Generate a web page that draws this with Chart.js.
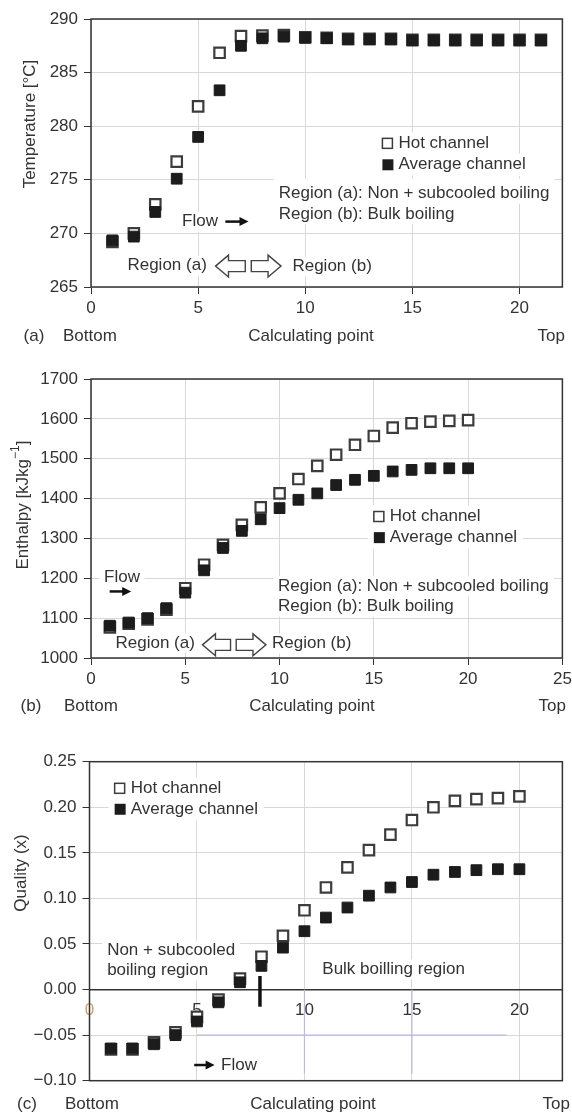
<!DOCTYPE html>
<html>
<head>
<meta charset="utf-8">
<script src="https://cdn.jsdelivr.net/npm/chart.js@4.4.1/dist/chart.umd.min.js"></script>
<style>
    html, body { margin: 0; padding: 0; background: #fff; }
    #wrap { position: relative; width: 572px; height: 1115px; }
    canvas { position: absolute; left: 0; }
</style>
</head>
<body>
<div id="wrap">
    <canvas id="chart-a" width="572" height="355" style="top:0"></canvas>
    <canvas id="chart-b" width="572" height="370" style="top:355px"></canvas>
    <canvas id="chart-c" width="572" height="390" style="top:725px"></canvas>
</div>
<script>
// (a) temperature
const pointsA = [1, 2, 3, 4, 5, 6, 7, 8, 9, 10, 11, 12, 13, 14, 15, 16, 17, 18, 19, 20, 21];
const tempHot = [269.2, 270.0, 272.7, 276.7, 281.85, 286.85, 288.4, 288.45, 288.5, 288.3, 288.25, 288.15, 288.15, 288.15, 288.05, 288.05, 288.05, 288.05, 288.05, 288.05, 288.05];
const tempAvg = [269.35, 269.7, 272.0, 275.1, 279.0, 283.35, 287.5, 288.2, 288.35, 288.25, 288.2, 288.1, 288.1, 288.1, 288.0, 288.0, 288.0, 288.0, 288.0, 288.0, 288.0];
const tempTicks = [265, 270, 275, 280, 285, 290];
const xTicksA = [0, 5, 10, 15, 20];

// (b) enthalpy
const pointsB = [1, 2, 3, 4, 5, 6, 7, 8, 9, 10, 11, 12, 13, 14, 15, 16, 17, 18, 19, 20];
const enthHot = [1077, 1086, 1097, 1121, 1175, 1234, 1284, 1334, 1378, 1413, 1449, 1482, 1510, 1535, 1557, 1578, 1589, 1593, 1595, 1597];
const enthAvg = [1081, 1089, 1100, 1125, 1164, 1220, 1276, 1319, 1348, 1376, 1397, 1413, 1434, 1447, 1457, 1468, 1472, 1476, 1476, 1476];
const enthTicks = [1000, 1100, 1200, 1300, 1400, 1500, 1600, 1700];
const xTicksB = [0, 5, 10, 15, 20, 25];

// (c) quality
const pointsC = [1, 2, 3, 4, 5, 6, 7, 8, 9, 10, 11, 12, 13, 14, 15, 16, 17, 18, 19, 20];
const qualHot = [-0.0656, -0.0656, -0.058, -0.047, -0.030, -0.011, 0.012, 0.036, 0.059, 0.087, 0.112, 0.134, 0.153, 0.170, 0.186, 0.200, 0.207, 0.209, 0.210, 0.212];
const qualAvg = [-0.0646, -0.0646, -0.060, -0.050, -0.035, -0.014, 0.008, 0.026, 0.046, 0.064, 0.079, 0.090, 0.103, 0.112, 0.118, 0.126, 0.129, 0.131, 0.132, 0.132];
const qualTicks = [-0.10, -0.05, 0, 0.05, 0.10, 0.15, 0.20, 0.25];
const xTicksC = [0, 5, 10, 15, 20];

const FAMILY = '"Liberation Sans", Arial, sans-serif';
const FONT = "17px " + FAMILY;
const INK = "#333";
Chart.defaults.font.family = FAMILY;
Chart.defaults.font.size = 17;
Chart.defaults.color = INK;

function drawText(ctx, t, x, y, align, bg, padTop) {
    ctx.font = FONT;
    const w = ctx.measureText(t).width;
    let left = x;
    if (align === "center") left = x - w / 2;
    if (align === "right") left = x - w;
    if (bg) {
        const pt = padTop || 10;
        ctx.fillStyle = "#fff";
        ctx.fillRect(left - 5, y - pt, w + 10, pt + 10);
    }
    ctx.fillStyle = INK;
    ctx.textAlign = "left";
    ctx.textBaseline = "middle";
    ctx.fillText(t, left, y);
    return w;
}

function hollowArrow(ctx, x1, x2, yc, dir) {
    const h = 22, sh = 11, head = 13;
    ctx.beginPath();
    if (dir === "left") {
        ctx.moveTo(x1, yc);
        ctx.lineTo(x1 + head, yc - h / 2);
        ctx.lineTo(x1 + head, yc - sh / 2);
        ctx.lineTo(x2, yc - sh / 2);
        ctx.lineTo(x2, yc + sh / 2);
        ctx.lineTo(x1 + head, yc + sh / 2);
        ctx.lineTo(x1 + head, yc + h / 2);
    } else {
        ctx.moveTo(x2, yc);
        ctx.lineTo(x2 - head, yc - h / 2);
        ctx.lineTo(x2 - head, yc - sh / 2);
        ctx.lineTo(x1, yc - sh / 2);
        ctx.lineTo(x1, yc + sh / 2);
        ctx.lineTo(x2 - head, yc + sh / 2);
        ctx.lineTo(x2 - head, yc + h / 2);
    }
    ctx.closePath();
    ctx.fillStyle = "#fff";
    ctx.fill();
    ctx.strokeStyle = "#444";
    ctx.lineWidth = 1.4;
    ctx.stroke();
}

function solidArrow(ctx, x1, x2, y) {
    ctx.strokeStyle = "#111";
    ctx.lineWidth = 2.5;
    ctx.beginPath();
    ctx.moveTo(x1, y);
    ctx.lineTo(x2 - 7, y);
    ctx.stroke();
    ctx.fillStyle = "#111";
    ctx.beginPath();
    ctx.moveTo(x2, y);
    ctx.lineTo(x2 - 9, y - 4.5);
    ctx.lineTo(x2 - 9, y + 4.5);
    ctx.closePath();
    ctx.fill();
}

// annotations inside the plot and texts around it
const notes = {
    id: "notes",
    beforeDatasetsDraw(chart, args, opts) {
        const ctx = chart.ctx;
        const px = v => chart.scales.x.getPixelForValue(v);
        const py = v => chart.scales.y.getPixelForValue(v);
        const area = chart.chartArea;
        ctx.save();
        for (const it of opts.items || []) {
            if (it.type === "text") {
                drawText(ctx, it.text, px(it.x), py(it.y), "left", true, it.padTop);
            } else if (it.type === "key") {
                const x = px(it.x), y = py(it.y);
                ctx.font = FONT;
                const w = ctx.measureText(it.text).width;
                ctx.fillStyle = "#fff";
                ctx.fillRect(x - 6, y - 11, w + 28, 22);
                if (it.hot) {
                    ctx.strokeStyle = "#3c3c3c";
                    ctx.lineWidth = 1.5;
                    ctx.strokeRect(x, y - 5, 10, 10);
                } else {
                    ctx.fillStyle = "#1c1c1c";
                    ctx.fillRect(x, y - 5.5, 11, 11);
                }
                drawText(ctx, it.text, x + 16, y, "left", false);
            } else if (it.type === "hollow") {
                hollowArrow(ctx, px(it.x1), px(it.x2), py(it.y), it.dir);
            } else if (it.type === "arrow") {
                solidArrow(ctx, px(it.x1), px(it.x2), py(it.y));
            } else if (it.type === "seg") {
                ctx.strokeStyle = it.color;
                ctx.lineWidth = it.width;
                ctx.beginPath();
                ctx.moveTo(px(it.x1), py(it.y1));
                ctx.lineTo(px(it.x2), py(it.y2));
                ctx.stroke();
            }
        }
        ctx.strokeStyle = "#333";
        ctx.lineWidth = 1.5;
        ctx.strokeRect(area.left, area.top, area.right - area.left, area.bottom - area.top);
        ctx.restore();
    },
    afterDraw(chart, args, opts) {
        const ctx = chart.ctx;
        ctx.save();
        for (const t of opts.outer || []) {
            drawText(ctx, t.text, t.x, t.y, t.align, false);
        }
        const tt = opts.title;
        if (tt) {
            ctx.translate(tt.x, tt.y);
            ctx.rotate(-Math.PI / 2);
            const supFont = "12px " + FAMILY;
            let total = 0;
            for (const p of tt.parts) {
                ctx.font = p.sup ? supFont : FONT;
                total += ctx.measureText(p.t).width;
            }
            let cx = -total / 2;
            ctx.fillStyle = INK;
            ctx.textBaseline = "middle";
            ctx.textAlign = "left";
            for (const p of tt.parts) {
                ctx.font = p.sup ? supFont : FONT;
                ctx.fillText(p.t, cx, p.sup ? -7 : 0);
                cx += ctx.measureText(p.t).width;
            }
        }
        ctx.restore();
    }
};

function series(xs, ys) {
    return xs.map((x, i) => ({ x: x, y: ys[i] }));
}

function xAxis(ticks, max, extra) {
    return Object.assign({
        type: "linear",
        min: 0,
        max: max,
        afterBuildTicks: s => { s.ticks = ticks.map(v => ({ value: v })); },
        grid: { color: "#d8d8d8", lineWidth: 1, tickLength: 7, tickColor: "#333" },
        border: { display: false },
        ticks: { color: INK, padding: 4, maxRotation: 0, autoSkip: false },
        afterFit: s => { s.height = 30; s.paddingLeft = 0; s.paddingRight = 0; }
    }, extra || {});
}

function yAxis(ticks, fmt, width) {
    return {
        type: "linear",
        min: ticks[0],
        max: ticks[ticks.length - 1],
        afterBuildTicks: s => { s.ticks = ticks.map(v => ({ value: v })); },
        grid: { color: "#d8d8d8", lineWidth: 1, tickLength: 7, tickColor: "#333" },
        border: { display: false },
        ticks: { color: INK, padding: 6, callback: fmt },
        afterFit: s => { s.width = width; s.paddingTop = 0; s.paddingBottom = 0; }
    };
}

function makeChart(id, xs, hot, avg, scales, padding, notesOpts) {
    return new Chart(document.getElementById(id), {
        type: "scatter",
        data: {
            datasets: [
                {
                    label: "Average channel",
                    data: series(xs, avg),
                    pointStyle: "rect",
                    pointRadius: 7.6,
                    backgroundColor: "#1c1c1c",
                    borderColor: "#1c1c1c",
                    borderWidth: 1,
                    order: 0
                },
                {
                    label: "Hot channel",
                    data: series(xs, hot),
                    pointStyle: "rect",
                    pointRadius: 7.4,
                    backgroundColor: "#fff",
                    borderColor: "#3c3c3c",
                    borderWidth: 2.2,
                    order: 1
                }
            ]
        },
        options: {
            responsive: false,
            animation: false,
            events: [],
            layout: { padding: padding },
            scales: scales,
            plugins: {
                legend: { display: false },
                tooltip: { enabled: false },
                notes: notesOpts
            }
        },
        plugins: [notes]
    });
}

makeChart("chart-a", pointsA, tempHot, tempAvg, {
    x: xAxis(xTicksA, 22),
    y: yAxis(tempTicks, v => String(v), 91)
}, { left: 0, right: 4, top: 19, bottom: 38 }, {
    items: [
        { type: "key", hot: true, x: 13.6, y: 278.4, text: "Hot channel" },
        { type: "key", hot: false, x: 13.6, y: 276.4, text: "Average channel" },
        { type: "text", x: 8.76, y: 273.7, text: "Region (a): Non + subcooled boiling", padTop: 15 },
        { type: "text", x: 8.76, y: 271.8, text: "Region (b): Bulk boiling" },
        { type: "text", x: 4.25, y: 271.1, text: "Flow" },
        { type: "arrow", x1: 6.27, x2: 7.35, y: 271.1 },
        { type: "text", x: 1.7, y: 267.0, text: "Region (a)" },
        { type: "hollow", x1: 5.81, x2: 7.2, y: 266.95, dir: "left" },
        { type: "hollow", x1: 7.48, x2: 8.87, y: 266.95, dir: "right" },
        { type: "text", x: 9.4, y: 266.9, text: "Region (b)" }
    ],
    outer: [
        { text: "(a)", x: 34, y: 336, align: "center" },
        { text: "Bottom", x: 63, y: 336, align: "left" },
        { text: "Calculating point", x: 311, y: 336, align: "center" },
        { text: "Top", x: 565, y: 336, align: "right" }
    ],
    title: { x: 30, y: 124, parts: [{ t: "Temperature [°C]" }] }
});

makeChart("chart-b", pointsB, enthHot, enthAvg, {
    x: xAxis(xTicksB, 25),
    y: yAxis(enthTicks, v => String(v), 91)
}, { left: 0, right: 6, top: 24, bottom: 37 }, {
    items: [
        { type: "key", hot: true, x: 15.0, y: 1355, text: "Hot channel" },
        { type: "key", hot: false, x: 15.0, y: 1302, text: "Average channel" },
        { type: "text", x: 9.92, y: 1180, text: "Region (a): Non + subcooled boiling" },
        { type: "text", x: 9.92, y: 1129, text: "Region (b): Bulk boiling" },
        { type: "text", x: 0.69, y: 1203, text: "Flow" },
        { type: "arrow", x1: 0.99, x2: 2.13, y: 1167 },
        { type: "text", x: 1.3, y: 1038, text: "Region (a)" },
        { type: "hollow", x1: 5.91, x2: 7.4, y: 1033, dir: "left" },
        { type: "hollow", x1: 7.7, x2: 9.28, y: 1033, dir: "right" },
        { type: "text", x: 9.6, y: 1036, text: "Region (b)" }
    ],
    outer: [
        { text: "(b)", x: 31, y: 351.7, align: "center" },
        { text: "Bottom", x: 64, y: 351.7, align: "left" },
        { text: "Calculating point", x: 312, y: 351.7, align: "center" },
        { text: "Top", x: 566, y: 351.7, align: "right" }
    ],
    title: { x: 23, y: 150, parts: [{ t: "Enthalpy [kJkg" }, { t: "−1", sup: true }, { t: "]" }] }
});

makeChart("chart-c", pointsC, qualHot, qualAvg, {
    x: xAxis(xTicksC, 22, {
        position: { y: 0 },
        grid: { color: "#d8d8d8", lineWidth: 1, tickLength: 7, tickColor: "rgba(0,0,0,0)" },
        border: { display: true, color: "#333", width: 1.5 },
        ticks: {
            padding: 4, maxRotation: 0, autoSkip: false,
            color: c => (c.tick && c.tick.value === 0 ? "#c9a36e" : INK)
        },
        afterFit: s => { s.paddingLeft = 0; s.paddingRight = 0; }
    }),
    y: yAxis(qualTicks, v => (v < 0 ? "−" : "") + Math.abs(v).toFixed(2), 89.5)
}, { left: 0, right: 4, top: 36.7, bottom: 34.3 }, {
    items: [
        { type: "seg", x1: 5, y1: -0.05, x2: 19.4, y2: -0.05, color: "#b9b9e2", width: 1.2 },
        { type: "seg", x1: 10, y1: 0, x2: 10, y2: -0.092, color: "#b9b9e2", width: 1.2 },
        { type: "seg", x1: 15, y1: 0, x2: 15, y2: -0.092, color: "#b9b9e2", width: 1.2 },
        { type: "key", hot: true, x: 1.17, y: 0.2208, text: "Hot channel" },
        { type: "key", hot: false, x: 1.17, y: 0.1978, text: "Average channel" },
        { type: "text", x: 0.82, y: 0.0426, text: "Non + subcooled" },
        { type: "text", x: 0.82, y: 0.0207, text: "boiling region" },
        { type: "text", x: 10.83, y: 0.022, text: "Bulk boilling region" },
        { type: "arrow", x1: 4.87, x2: 5.82, y: -0.0828 },
        { type: "text", x: 6.12, y: -0.0828, text: "Flow" },
        { type: "seg", x1: 7.93, y1: 0.0149, x2: 7.93, y2: -0.0188, color: "#111", width: 3.5 }
    ],
    outer: [
        { text: "(c)", x: 27, y: 379, align: "center" },
        { text: "Bottom", x: 65, y: 379, align: "left" },
        { text: "Calculating point", x: 313, y: 379, align: "center" },
        { text: "Top", x: 570, y: 379, align: "right" }
    ],
    title: { x: 21, y: 148, parts: [{ t: "Quality (x)" }] }
});
</script>
</body>
</html>
